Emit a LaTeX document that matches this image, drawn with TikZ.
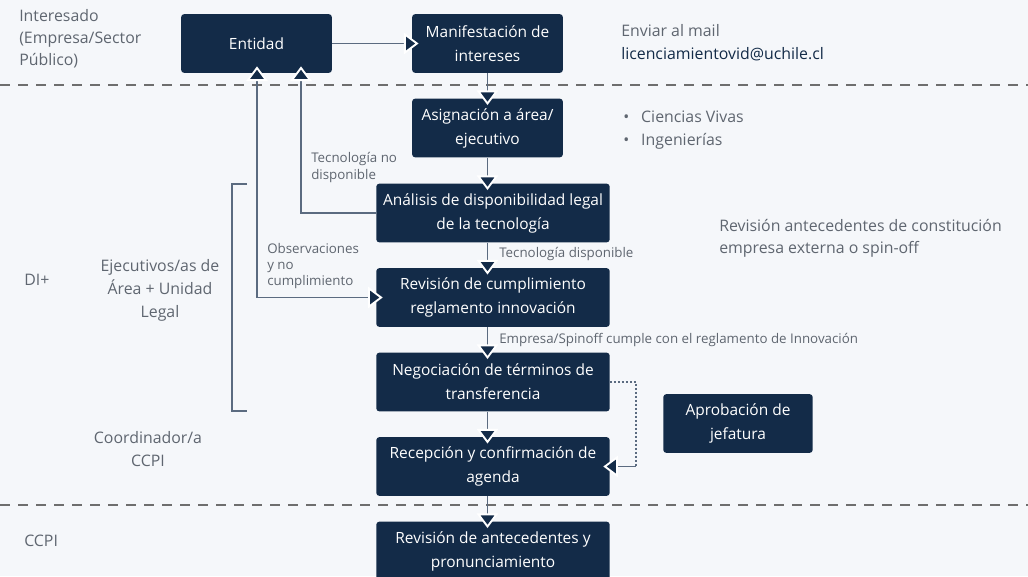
\documentclass[tikz,border=0pt]{standalone}
\usepackage{fontspec}
\setmainfont{Open Sans}
\usetikzlibrary{arrows.meta}
\definecolor{navy}{HTML}{132B48}
\definecolor{bg}{HTML}{F5F7FA}
\definecolor{conn}{HTML}{5B6B80}
\definecolor{txt}{HTML}{5F6670}
\definecolor{dash}{HTML}{6E6E6E}
\begin{document}
\begin{tikzpicture}[x=0.75pt,y=-0.75pt,
  box/.style={fill=navy,draw=none,rounded corners=2.2pt,text=white,align=center,
    font=\fontsize{11.6}{18}\selectfont,inner sep=0pt},
  tip/.style={-{Triangle[width=16pt,length=11pt,fill=navy,color=white,line width=1.4pt]}},
  arr/.style={draw=conn,line width=0.9pt,tip,shorten >=-5pt},
  lbl/.style={text=txt,font=\fontsize{10}{12.5}\selectfont,inner sep=0pt,align=left},
  side/.style={text=txt,font=\fontsize{11.9}{16.5}\selectfont,inner sep=0pt},
  sep/.style={draw=dash,line width=1pt,dash pattern=on 7.5pt off 6pt}]
\useasboundingbox[fill=bg] (0,0) rectangle (1028,576);
% separators
\draw[sep] (0,85) -- (1028,85);
\draw[sep] (0,505) -- (1028,505);
% boxes
\node[box,minimum width=113pt,minimum height=44pt] (ent) at (256.5,43.5) {Entidad};
\node[box,minimum width=113pt,minimum height=44pt] (man) at (487.5,43.5) {Manifestación de\\intereses};
\node[box,minimum width=113pt,minimum height=44pt] (asig) at (487.5,128) {Asignación a área/\\ejecutivo};
\node[box,minimum width=175pt,minimum height=44pt] (anal) at (493,213) {Análisis de disponibilidad legal\\de la tecnología};
\node[box,minimum width=175pt,minimum height=44pt] (rev) at (493,297.5) {Revisión de cumplimiento\\reglamento innovación};
\node[box,minimum width=175pt,minimum height=44pt] (neg) at (493,382) {Negociación de términos de\\transferencia};
\node[box,minimum width=175pt,minimum height=44pt] (rec) at (493,466.5) {Recepción y confirmación de\\agenda};
\node[box,minimum width=175pt,minimum height=44pt] (ant) at (493,551) {Revisión de antecedentes y\\pronunciamiento};
\node[box,minimum width=112pt,minimum height=44pt] (apr) at (738,423.5) {Aprobación de\\jefatura};
% main flow
\draw[arr] (ent.east) -- (man.west);
\draw[arr] (man.south) -- (asig.north);
\draw[arr] (asig.south) -- (asig.south |- anal.north);
\draw[arr] (asig.south |- anal.south) -- (asig.south |- rev.north);
\draw[arr] (asig.south |- rev.south) -- (asig.south |- neg.north);
\draw[arr] (asig.south |- neg.south) -- (asig.south |- rec.north);
\draw[arr] (asig.south |- rec.south) -- (asig.south |- ant.north);
% feedback
\coordinate (e1) at (301,73);
\coordinate (e2) at (257,73);
\draw[arr] (anal.west) -| (e1);
\draw[arr] (rev.west) -| (e2);
\draw[arr] (e2 |- rev.west) -- (rev.west);
% dotted
\coordinate (dc) at (636,0);
\draw[draw=conn,line width=0.9pt,dash pattern=on 1.5pt off 1.5pt] (neg.east) -| (dc |- rec.east);
\draw[arr] (dc |- rec.east) -- (rec.east);
% bracket
\coordinate (b1) at (247,184);
\coordinate (b2) at (247,411);
\coordinate (bx) at (232,0);
\draw[draw=conn,line width=0.9pt] (b1) -- (bx |- b1) -- (bx |- b2) -- (b2);
% labels on connectors
\node[lbl,anchor=west] (l1) at (499,254) {Tecnología disponible};
\node[lbl,anchor=west] (l2) at (499,340) {Empresa/Spinoff cumple con el reglamento de Innovación};
\node[lbl,anchor=north west] (l3) at (311,152) {Tecnología no\\disponible};
\node[lbl,anchor=north west,font=\fontsize{10}{12}\selectfont] (l4) at (267,243) {Observaciones\\y no\\cumplimiento};
% side texts
\node[side,anchor=north west,align=left] (int) at (19,9) {Interesado\\(Empresa/Sector\\Público)};
\node[side,anchor=west] (di) at (24,280) {DI+};
\node[side,align=center,font=\fontsize{11.9}{17.2}\selectfont] (eje) at (160,290) {Ejecutivos/as de\\Área + Unidad\\Legal};
\node[side,align=center,font=\fontsize{11.9}{17.2}\selectfont] (coo) at (148,449.5) {Coordinador/a\\CCPI};
\node[side,anchor=west] (ccpi) at (24,541) {CCPI};
\node[side,anchor=west] (env) at (621,31) {Enviar al mail};
\node[side,anchor=west,text=navy] (mail) at (621,54) {licenciamientovid@uchile.cl};
\node[side,anchor=west] (b1t) at (623,117) {•\hspace{9pt}Ciencias Vivas};
\node[side,anchor=west] (b2t) at (623,141) {•\hspace{9pt}Ingenierías};
\node[side,anchor=north west,align=left] (revt) at (719,219.5) {Revisión antecedentes de constitución\\empresa externa o spin-off};
\end{tikzpicture}
\end{document}
